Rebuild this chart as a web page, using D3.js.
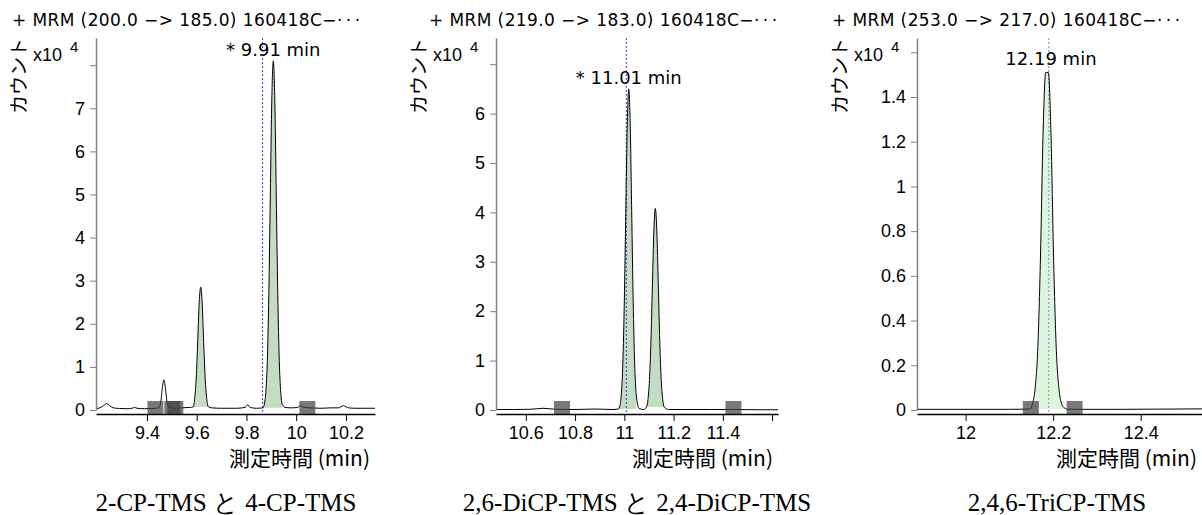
<!DOCTYPE html>
<html>
<head>
<meta charset="utf-8">
<script src="https://cdn.jsdelivr.net/npm/d3@7"></script>
<style>
body { margin: 0; background: #fff; }
svg text { font-family: "Liberation Sans", Arial, sans-serif; }
</style>
</head>
<body>
<script>
// chromatogram traces, counts in units of 10^4, time in min

// panel 1: 2-CP-TMS / 4-CP-TMS
var p1_time = [9.195, 9.21, 9.225, 9.238, 9.25, 9.265, 9.29, 9.32, 9.34, 9.35, 9.36, 9.39, 9.42, 9.447, 9.455, 9.462, 9.468, 9.474, 9.481, 9.49,
	9.51, 9.54, 9.57, 9.586, 9.592, 9.598, 9.604, 9.61, 9.616, 9.622, 9.628, 9.634, 9.64, 9.646, 9.66, 9.7, 9.76, 9.795, 9.805, 9.815,
	9.84, 9.866, 9.872, 9.878, 9.884, 9.89, 9.896, 9.902, 9.908, 9.914, 9.92, 9.926, 9.932, 9.938, 9.944, 9.955, 9.98, 10.005, 10.018, 10.03,
	10.06, 10.1, 10.14, 10.17, 10.19, 10.21, 10.24, 10.28, 10.317];
var p1_counts = [0.03, 0.05, 0.1, 0.15, 0.1, 0.05, 0.035, 0.03, 0.04, 0.06, 0.04, 0.03, 0.035, 0.05, 0.17, 0.52, 0.7, 0.52, 0.17, 0.06,
	0.04, 0.05, 0.06, 0.07, 0.28, 0.74, 1.57, 2.49, 2.85, 2.49, 1.57, 0.74, 0.28, 0.08, 0.05, 0.04, 0.04, 0.06, 0.12, 0.06,
	0.04, 0.05, 0.14, 0.41, 1.15, 2.68, 4.96, 7.2, 8.1, 7.2, 4.96, 2.68, 1.15, 0.41, 0.13, 0.06, 0.05, 0.06, 0.1, 0.06,
	0.05, 0.04, 0.05, 0.05, 0.1, 0.05, 0.04, 0.04, 0.04];
var p1_fill = [[9.586, 9.646], [9.866, 9.944]];
var p1_marks = [9.434, 9.502, 9.514, 10.045];
var p1_rt = 9.865;
var p1_peak = [9.908, 8.1];
var p1_xticks = [9.4, 9.6, 9.8, 10, 10.2];
var p1_yticks = [0, 1, 2, 3, 4, 5, 6, 7, 8];

// panel 2: 2,6-DiCP-TMS / 2,4-DiCP-TMS
var p2_time = [10.479, 10.55, 10.62, 10.67, 10.72, 10.8, 10.88, 10.95, 10.976, 10.982, 10.988, 10.994, 11.0, 11.006, 11.012, 11.018, 11.024, 11.03, 11.036, 11.042,
	11.048, 11.06, 11.08, 11.09, 11.096, 11.102, 11.108, 11.114, 11.12, 11.126, 11.132, 11.138, 11.144, 11.15, 11.156, 11.162, 11.18, 11.25, 11.35, 11.45,
	11.55, 11.624];
var p2_counts = [0.01, 0.01, 0.015, 0.035, 0.015, 0.01, 0.02, 0.01, 0.02, 0.09, 0.33, 0.95, 2.2, 4.02, 5.77, 6.5, 5.77, 4.02, 2.2, 0.95,
	0.33, 0.03, 0.01, 0.06, 0.21, 0.6, 1.38, 2.53, 3.63, 4.08, 3.63, 2.53, 1.38, 0.6, 0.21, 0.06, 0.01, 0.01, 0.01, 0.01,
	0.005, 0.005];
var p2_fill = [[10.976, 11.048], [11.09, 11.162]];
var p2_marks = [10.747, 11.443];
var p2_rt = 11.008;
var p2_peak = [11.018, 6.5];
var p2_xticks = [10.6, 10.8, 11, 11.2, 11.4, 11.6];
var p2_yticks = [0, 1, 2, 3, 4, 5, 6, 7];

// panel 3: 2,4,6-TriCP-TMS
var p3_time = [11.889, 12.0, 12.1, 12.147, 12.153, 12.159, 12.165, 12.171, 12.177, 12.183, 12.189, 12.195, 12.201, 12.207, 12.213, 12.219, 12.225, 12.231, 12.26, 12.35,
	12.45, 12.54];
var p3_counts = [0.003, 0.003, 0.003, 0.004, 0.03, 0.1, 0.28, 0.68, 1.24, 1.51, 1.51, 1.24, 0.68, 0.28, 0.1, 0.03, 0.01, 0.004, 0.003, 0.003,
	0.004, 0.005];
var p3_fill = [[12.147, 12.231]];
var p3_marks = [12.149, 12.249];
var p3_rt = 12.19;
var p3_peak = [12.195, 1.52];
var p3_xticks = [12, 12.2, 12.4];
var p3_yticks = [0, 0.2, 0.4, 0.6, 0.8, 1, 1.2, 1.4, 1.6];

var titles = ['+ MRM (200.0 −> 185.0) 160418C−', '+ MRM (219.0 −> 183.0) 160418C−', '+ MRM (253.0 −> 217.0) 160418C−'];
var peak_labels = ['* 9.91 min', '* 11.01 min', '12.19 min'];
var captions = ['2-CP-TMS と 4-CP-TMS', '2,6-DiCP-TMS と 2,4-DiCP-TMS', '2,4,6-TriCP-TMS'];

var width = 1202, height = 515;
var y_top = 38, y_zero = 410, x_axis_y = 414;

var panels = [
	{time: p1_time, counts: p1_counts, fill: p1_fill, marks: p1_marks, rt: p1_rt, peak: p1_peak, xticks: p1_xticks, yticks: p1_yticks,
		left: 96, right: 375, xdomain: [9.195, 10.317], ymax: 8.63, title_x: 12, caption_x: 226, fill_col: '#c4dcc2', rt_col: '#3a3ad6'},
	{time: p2_time, counts: p2_counts, fill: p2_fill, marks: p2_marks, rt: p2_rt, peak: p2_peak, xticks: p2_xticks, yticks: p2_yticks,
		left: 496, right: 778, xdomain: [10.479, 11.624], ymax: 7.53, title_x: 429, caption_x: 637, fill_col: '#c4dcc2', rt_col: '#3a3ad6'},
	{time: p3_time, counts: p3_counts, fill: p3_fill, marks: p3_marks, rt: p3_rt, peak: p3_peak, xticks: p3_xticks, yticks: p3_yticks,
		left: 917, right: 1202, xdomain: [11.889, 12.54], ymax: 1.664, title_x: 832, caption_x: 1057, fill_col: '#dcf5dc', rt_col: '#7c8cc8'}
];

var svg = d3.select('body').append('svg').attr('width', width).attr('height', height);

function fmt(v) { return String(+v.toFixed(1)); }

function draw_panel(p, i) {
	var g = svg.append('g');
	var x = d3.scaleLinear().domain(p.xdomain).range([p.left, p.right]);
	var y = d3.scaleLinear().domain([0, p.ymax]).range([y_zero, y_top]);
	var pts = p.time.map((t, j) => [t, p.counts[j]]);

	// integrated peak areas
	p.fill.forEach(function(r) {
		var seg = pts.filter(d => d[0] >= r[0] - 1e-9 && d[0] <= r[1] + 1e-9);
		var base = Math.min(seg[0][1], seg[seg.length-1][1]);
		g.append('path').datum(seg)
			.attr('d', d3.area().x(d => x(d[0])).y0(y(base)).y1(d => y(d[1])).curve(d3.curveMonotoneX))
			.attr('fill', p.fill_col);
	});

	// retention time marker
	g.append('line').attr('x1', x(p.rt)).attr('x2', x(p.rt)).attr('y1', y_top).attr('y2', x_axis_y)
		.attr('stroke', p.rt_col).attr('stroke-width', 1).attr('stroke-dasharray', '2,2');

	// trace
	g.append('path').datum(pts)
		.attr('d', d3.line().x(d => x(d[0])).y(d => y(d[1])).curve(d3.curveMonotoneX))
		.attr('fill', 'none').attr('stroke', '#000').attr('stroke-width', 1);

	// integration start/end markers
	g.selectAll('rect.mark').data(p.marks).enter().append('rect').attr('class', 'mark')
		.attr('x', d => x(d) - 8).attr('y', x_axis_y - 13).attr('width', 16).attr('height', 13)
		.attr('fill', '#404040').attr('opacity', 0.7);

	// axes
	var top = p.yticks[p.yticks.length-1];
	var ya = g.append('g').attr('transform', 'translate(' + p.left + ',0)')
		.call(d3.axisLeft(y).tickValues(p.yticks).tickSize(6).tickPadding(5).tickSizeOuter(0)
			.tickFormat(d => d === top ? '' : fmt(d)));
	ya.select('.domain').attr('stroke', '#808080').attr('stroke-width', 1.5);
	ya.selectAll('.tick line').attr('stroke', '#808080');
	ya.selectAll('.tick text').attr('font-size', 18).attr('fill', '#000')
		.style('font-family', '"Liberation Sans", Arial, sans-serif');

	var last = p.xticks[p.xticks.length-1];
	var xa = g.append('g').attr('transform', 'translate(0,' + x_axis_y + ')')
		.call(d3.axisBottom(x).tickValues(p.xticks).tickSize(7).tickPadding(5).tickSizeOuter(0)
			.tickFormat(d => (i === 1 && d === last) ? '' : fmt(d)));
	xa.select('.domain').attr('stroke', '#000').attr('stroke-width', 1.5);
	xa.selectAll('.tick text').attr('font-size', 18).attr('fill', '#000')
		.style('font-family', '"Liberation Sans", Arial, sans-serif');

	// texts
	var tt = g.append('text').attr('x', p.title_x).attr('y', 26).attr('font-size', 17).attr('fill', '#000')
		.style('font-family', '"DejaVu Sans", sans-serif').attr('letter-spacing', 0.4);
	tt.append('tspan').text(titles[i]);
	tt.append('tspan').text('···').attr('letter-spacing', 3.5);
	g.append('text').text(peak_labels[i]).attr('x', x(p.peak[0])).attr('y', y(p.peak[1]) - 5)
		.attr('text-anchor', 'middle').attr('font-size', 18).attr('fill', '#000')
		.style('font-family', '"DejaVu Sans", sans-serif');
	g.append('text').text('カウント').attr('transform', 'translate(' + (p.left - 70) + ',' + y_top + ') rotate(-90)')
		.attr('text-anchor', 'end').attr('font-size', 19).attr('fill', '#000')
		.style('font-family', '"Noto Sans CJK JP", sans-serif');
	var xl = g.append('text').attr('x', p.left - 63).attr('y', 61).attr('font-size', 18).attr('fill', '#000');
	xl.append('tspan').text('x10');
	xl.append('tspan').text('4').attr('font-size', 15).attr('dx', 8).attr('dy', -9);
	g.append('text').text('測定時間 (min)').attr('x', p.right - 5).attr('y', 466)
		.attr('text-anchor', 'end').attr('font-size', 21).attr('fill', '#000')
		.style('font-family', '"Noto Sans CJK JP", sans-serif');
	g.append('text').text(captions[i]).attr('x', p.caption_x).attr('y', 511)
		.attr('text-anchor', 'middle').attr('font-size', 25).attr('fill', '#000')
		.style('font-family', '"Liberation Serif", "DejaVu Serif", serif');
}

panels.forEach(draw_panel);
</script>
</body>
</html>
